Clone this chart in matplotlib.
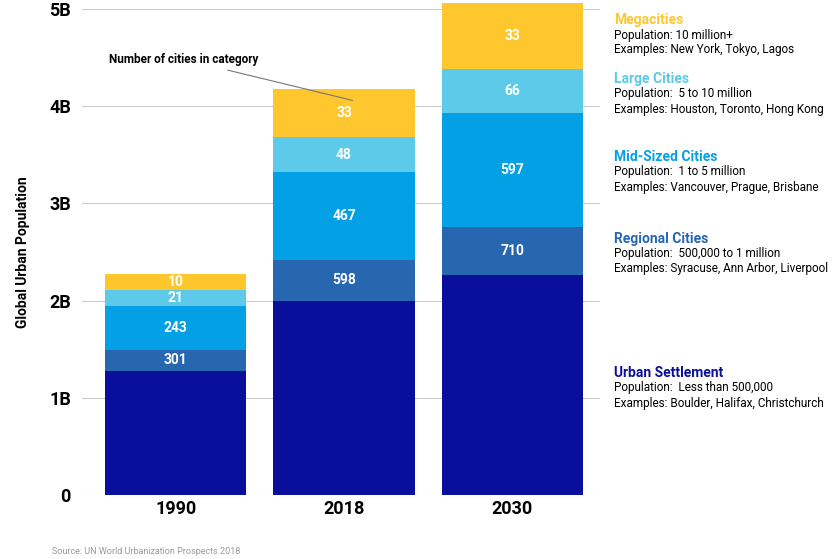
import numpy as np
import matplotlib.pyplot as plt

plt.rcParams['font.family'] = ['Roboto', 'DejaVu Sans']

years = ['1990', '2018', '2030']
categories = ['Urban Settlement', 'Regional Cities', 'Mid-Sized Cities', 'Large Cities', 'Megacities']
colors = ['#0a0f9b', '#2667b0', '#04a0e6', '#5ccae8', '#ffc72e']
# population in billions per segment
pop = {
    'Urban Settlement': [1.28, 2.00, 2.26],
    'Regional Cities': [0.21, 0.42, 0.50],
    'Mid-Sized Cities': [0.45, 0.90, 1.17],
    'Large Cities': [0.17, 0.36, 0.45],
    'Megacities': [0.16, 0.50, 0.68],
}
counts = {
    'Urban Settlement': [None, None, None],
    'Regional Cities': [301, 598, 710],
    'Mid-Sized Cities': [243, 467, 597],
    'Large Cities': [21, 48, 66],
    'Megacities': [10, 33, 33],
}
legend_lines = {
    'Megacities': ['Population: 10 million+', 'Examples: New York, Tokyo, Lagos'],
    'Large Cities': ['Population:  5 to 10 million', 'Examples: Houston, Toronto, Hong Kong'],
    'Mid-Sized Cities': ['Population:  1 to 5 million', 'Examples: Vancouver, Prague, Brisbane'],
    'Regional Cities': ['Population:  500,000 to 1 million', 'Examples: Syracuse, Ann Arbor, Liverpool'],
    'Urban Settlement': ['Population:  Less than 500,000', 'Examples: Boulder, Halifax, Christchurch'],
}
legend_y = {'Megacities': 20, 'Large Cities': 79, 'Mid-Sized Cities': 157,
            'Regional Cities': 239, 'Urban Settlement': 373}

W, H = 834, 559
fig = plt.figure(figsize=(W / 100, H / 100), dpi=100)
ax = fig.add_axes([82 / W, 1 - 495 / H, (600 - 82) / W, (495 - 9) / H])
x = np.arange(len(years))
bottom = np.zeros(len(years))
for cat, col in zip(categories, colors):
    vals = np.array(pop[cat])
    ax.bar(x, vals, 0.84, bottom=bottom, color=col, clip_on=False, zorder=2)
    for i, c in enumerate(counts[cat]):
        if c is not None:
            ax.text(x[i], bottom[i] + vals[i] / 2, str(c), ha='center', va='center',
                    color='white', fontsize=10, fontweight='bold', zorder=3)
    bottom += vals

ax.set_xlim(-0.556, 2.52)
ax.set_ylim(0, 5)
ax.set_yticks([0, 1, 2, 3, 4, 5])
ax.set_yticklabels(['0', '1B', '2B', '3B', '4B', '5B'])
ax.yaxis.grid(True, color='#cccccc', lw=0.8, zorder=0)
ax.set_xticks(x)
ax.set_xticklabels(years)
ax.tick_params(axis='both', length=0, labelsize=13)
for lbl in ax.get_xticklabels() + ax.get_yticklabels():
    lbl.set_fontweight('bold')
for s in ax.spines.values():
    s.set_visible(False)
ax.tick_params(axis='y', pad=8)
ax.set_ylabel('Global Urban Population', fontsize=10, fontweight='bold', labelpad=14)

ax.annotate('Number of cities in category', xy=(1.05, 4.06), xytext=(0.05, 4.48),
            fontsize=8.5, fontweight='bold', ha='center', va='center',
            arrowprops=dict(arrowstyle='-', color='#777777', lw=0.8, shrinkA=4, shrinkB=0))

for cat, col in zip(categories, colors):
    y0 = legend_y[cat]
    fig.text(614 / W, 1 - y0 / H, cat, color=col, fontsize=10, fontweight='bold', va='center')
    for j, line in enumerate(legend_lines[cat]):
        fig.text(614 / W, 1 - (y0 + 15 + 15 * j) / H, line, fontsize=8.5, va='center')

fig.text(52 / W, 1 - 551 / H, 'Source: UN World Urbanization Prospects 2018',
         fontsize=6.5, color='#999999', va='center')

fig.savefig('out.png', dpi=100)
